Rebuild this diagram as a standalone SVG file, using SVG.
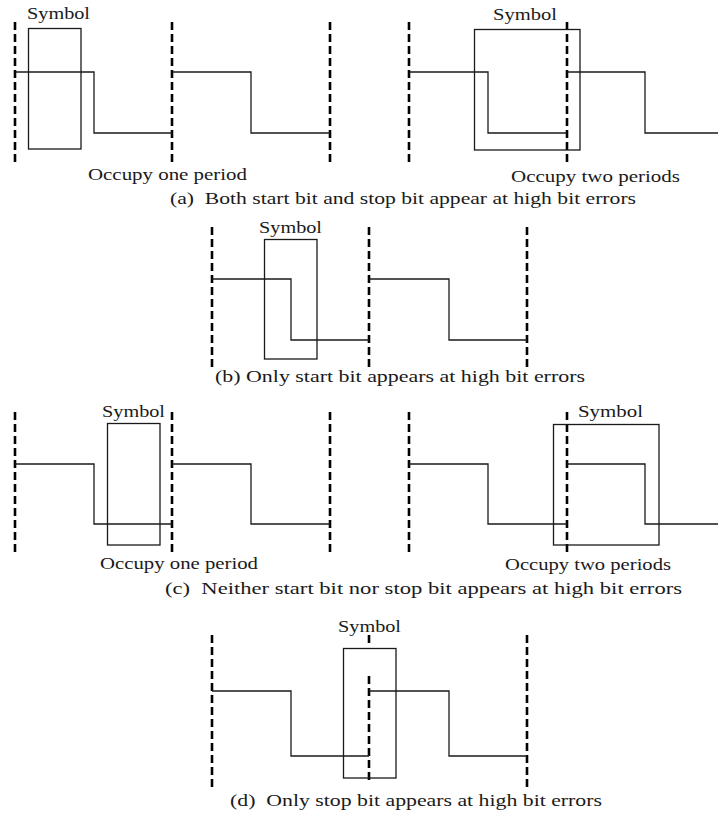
<svg xmlns="http://www.w3.org/2000/svg" width="718" height="818" viewBox="0 0 718 818">
<style>
.dash{stroke:#000;stroke-width:2.6;stroke-dasharray:8 4;fill:none}
.wave{stroke:#1a1a1a;stroke-width:1.3;fill:none}
.box{stroke:#1a1a1a;stroke-width:1.3;fill:none}
text{font-family:"Liberation Serif","Times New Roman",serif;font-size:17px;fill:#1a1a1a;white-space:pre}
</style>
<rect width="718" height="818" fill="#fff"/>
<g id="panel-a-left">
<line class="dash" x1="15" y1="22" x2="15" y2="164"/>
<line class="dash" x1="172" y1="22" x2="172" y2="164"/>
<line class="dash" x1="330" y1="22" x2="330" y2="164"/>
<polyline class="wave" points="15,72 94,72 94,133 172,133"/>
<polyline class="wave" points="172,72 251,72 251,133 330,133"/>
<rect class="box" x="28.5" y="28.5" width="52.5" height="120.5"/>
<text x="27" y="19" textLength="63" lengthAdjust="spacingAndGlyphs">Symbol</text>
<text x="88" y="180" textLength="159" lengthAdjust="spacingAndGlyphs">Occupy one period</text>
</g>
<g id="panel-a-right">
<line class="dash" x1="409" y1="22" x2="409" y2="164"/>
<line class="dash" x1="567" y1="22" x2="567" y2="164"/>
<polyline class="wave" points="409,72 488,72 488,133 567,133"/>
<polyline class="wave" points="567,72 645,72 645,133 718,133"/>
<rect class="box" x="474.5" y="29.5" width="105.5" height="120.5"/>
<text x="493" y="20" textLength="64" lengthAdjust="spacingAndGlyphs">Symbol</text>
<text x="511" y="182" textLength="169" lengthAdjust="spacingAndGlyphs">Occupy two periods</text>
</g>
<text id="caption-a" x="170" y="204" textLength="466" lengthAdjust="spacingAndGlyphs" xml:space="preserve">(a)  Both start bit and stop bit appear at high bit errors</text>
<g id="panel-b">
<line class="dash" x1="212" y1="227" x2="212" y2="368"/>
<line class="dash" x1="369" y1="227" x2="369" y2="368"/>
<line class="dash" x1="527" y1="227" x2="527" y2="368"/>
<polyline class="wave" points="212,279 291,279 291,340 369,340"/>
<polyline class="wave" points="369,279 449,279 449,340 527,340"/>
<rect class="box" x="264.5" y="239.5" width="52.5" height="119.5"/>
<text x="259" y="233" textLength="63" lengthAdjust="spacingAndGlyphs">Symbol</text>
</g>
<text id="caption-b" x="215" y="382" textLength="370" lengthAdjust="spacingAndGlyphs">(b) Only start bit appears at high bit errors</text>
<g id="panel-c-left">
<line class="dash" x1="15" y1="412" x2="15" y2="555"/>
<line class="dash" x1="172" y1="412" x2="172" y2="555"/>
<line class="dash" x1="330" y1="412" x2="330" y2="555"/>
<polyline class="wave" points="15,464 94,464 94,524 172,524"/>
<polyline class="wave" points="172,464 251,464 251,524 330,524"/>
<rect class="box" x="107.5" y="423.5" width="52.5" height="121.5"/>
<text x="102" y="417" textLength="63" lengthAdjust="spacingAndGlyphs">Symbol</text>
<text x="100" y="569" textLength="158" lengthAdjust="spacingAndGlyphs">Occupy one period</text>
</g>
<g id="panel-c-right">
<line class="dash" x1="409" y1="412" x2="409" y2="555"/>
<line class="dash" x1="567" y1="412" x2="567" y2="555"/>
<polyline class="wave" points="409,464 488,464 488,524 567,524"/>
<polyline class="wave" points="567,464 645,464 645,524 718,524"/>
<rect class="box" x="553.5" y="424.5" width="105.5" height="120.5"/>
<text x="578" y="417" textLength="65" lengthAdjust="spacingAndGlyphs">Symbol</text>
<text x="505" y="570" textLength="166" lengthAdjust="spacingAndGlyphs">Occupy two periods</text>
</g>
<text id="caption-c" x="165" y="594" textLength="517" lengthAdjust="spacingAndGlyphs" xml:space="preserve">(c)  Neither start bit nor stop bit appears at high bit errors</text>
<g id="panel-d">
<line class="dash" x1="212" y1="635" x2="212" y2="788"/>
<line class="dash" x1="369" y1="635" x2="369" y2="647"/>
<line class="dash" x1="369" y1="676" x2="369" y2="784"/>
<line class="dash" x1="527" y1="635" x2="527" y2="788"/>
<polyline class="wave" points="212,691 291,691 291,756 369,756"/>
<polyline class="wave" points="369,691 449,691 449,756 527,756"/>
<rect class="box" x="343.5" y="648.5" width="52.5" height="129.5"/>
<text x="338" y="632" textLength="63" lengthAdjust="spacingAndGlyphs">Symbol</text>
</g>
<text id="caption-d" x="230" y="806" textLength="372" lengthAdjust="spacingAndGlyphs" xml:space="preserve">(d)  Only stop bit appears at high bit errors</text>
</svg>
